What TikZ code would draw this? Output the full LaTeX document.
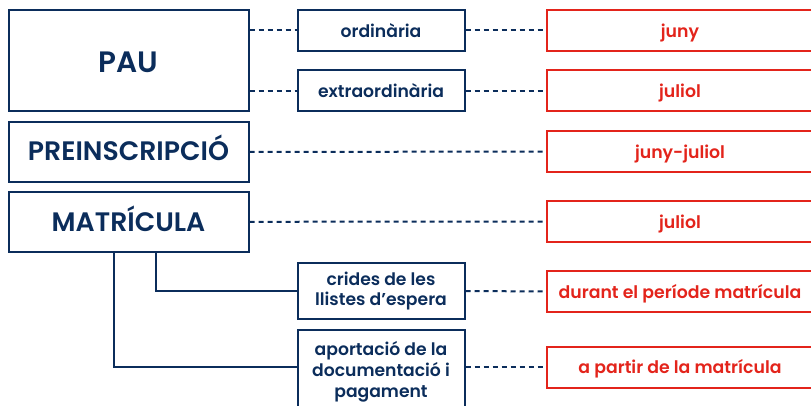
\documentclass[tikz,border=0pt]{standalone}
\usepackage{fontspec}
\setmainfont{Poppins}[UprightFont=* SemiBold, BoldFont=* Bold]
\definecolor{navy}{HTML}{0B2D5B}
\definecolor{redc}{HTML}{E3241B}
\begin{document}
\begin{tikzpicture}[x=1pt,y=-1pt,
  bigbox/.style={draw=navy, line width=2pt, text=navy, minimum width=240pt, inner sep=0pt, text depth=0pt, font=\fontsize{26.7}{30}\selectfont},
  midbox/.style={draw=navy, line width=2pt, text=navy, minimum width=167pt, inner sep=0pt, align=center, font=\fontsize{17.2}{20.7}\selectfont},
  oneline/.style={text height=13.5pt, text depth=0pt},
  datebox/.style={draw=redc, line width=2pt, text=redc, minimum width=266pt, minimum height=41pt, inner sep=0pt, oneline, font=\fontsize{17.3}{21}\selectfont},
  dashlink/.style={draw=navy, line width=2pt, dash pattern=on 5pt off 4pt},
  link/.style={draw=navy, line width=2pt}]
\useasboundingbox (0,0) rectangle (811,406);
% left column
\node[bigbox, minimum height=101pt, font=\fontsize{29.5}{35}\selectfont, text height=24.6pt] (pau) at (128.5,60.5) {PAU};
\node[bigbox, minimum height=60pt, text height=17.1pt] (pre) at (128.5,152) {PREINSCRIPCIÓ};
\node[bigbox, minimum height=59.5pt, text height=19.5pt] (mat) at (128.5,221.8) {MATRÍCULA};
% middle column
\node[midbox, oneline, minimum height=40.7pt] (ord) at (381,30.3) {ordinària};
\node[midbox, oneline, minimum height=40.7pt] (ext) at (381,90.6) {extraordinària};
\node[midbox, minimum height=56.6pt] (crides) at (381,291) {crides de les\\llistes d’espera};
\node[midbox, minimum height=83.4pt] (aport) at (381,372) {aportació de la\\documentació i\\pagament};
% right column
\node[datebox] (juny) at (680,30.3) {juny};
\node[datebox] (jul1) at (680,90.6) {juliol};
\node[datebox] (jj) at (680,151.5) {juny-juliol};
\node[datebox] (jul2) at (680,221.5) {juliol};
\node[datebox] (durant) at (680,291.5) {durant el període matrícula};
\node[datebox] (apart) at (680,367.2) {a partir de la matrícula};
% dashed connectors
\draw[dashlink] (ord.west -| pau.east) -- (ord.west);
\draw[dashlink] (ext.west -| pau.east) -- (ext.west);
\draw[dashlink] (ord.east) -- (juny.west);
\draw[dashlink] (ext.east) -- (jul1.west);
\draw[dashlink] (pre.east) -- (jj.west);
\draw[dashlink] (mat.east) -- (jul2.west);
\draw[dashlink] (crides.east) -- (durant.west);
\draw[dashlink] (apart.west -| aport.east) -- (apart.west);
% solid connectors
\draw[link] ([xshift=27.2pt]mat.south) |- (crides.west);
\draw[link] ([xshift=-14.5pt]mat.south) |- (apart.west -| aport.west);
\end{tikzpicture}
\end{document}
